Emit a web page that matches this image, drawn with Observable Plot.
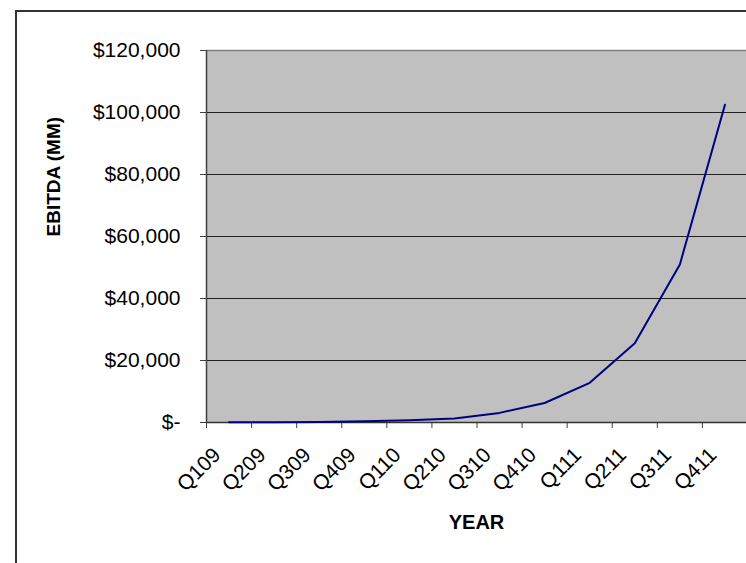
<!DOCTYPE html>
<html>
<head>
<meta charset="utf-8">
<script src="https://cdn.jsdelivr.net/npm/d3@7"></script>
<script src="https://cdn.jsdelivr.net/npm/@observablehq/plot@0.6"></script>
<style>
  html, body { margin: 0; padding: 0; background: #fff; }
  #wrap { position: relative; width: 746px; height: 563px; overflow: hidden; }
  #border { position: absolute; left: 15px; top: 10px; width: 740px; height: 560px;
            border-left: 2px solid #333; border-top: 2px solid #333; }
  #chart { position: absolute; left: 0; top: 0; }
</style>
</head>
<body>
<div id="wrap"><div id="border"></div><div id="chart"></div></div>
<script>
const quarters = ["Q109","Q209","Q309","Q409","Q110","Q210","Q310","Q410","Q111","Q211","Q311","Q411"];
const ebitda = [50, 100, 200, 400, 700, 1300, 3100, 6300, 12800, 25600, 51000, 102500];
const yTicks = [0, 20000, 40000, 60000, 80000, 100000, 120000];
const yTitle = "EBITDA (MM)";
const xTitle = "YEAR";

const data = quarters.map((q, i) => ({q, i: i + 0.5, v: ebitda[i]}));
const boundaries = d3.range(quarters.length);
const centers = data.map(d => d.i);
const fmt = d3.format(",");

const plot = Plot.plot({
  width: 746,
  height: 563,
  marginLeft: 206,
  marginRight: 0,
  marginTop: 50,
  marginBottom: 141,
  style: {fontFamily: "'Liberation Sans', Arial, sans-serif", fontSize: "21px", background: "transparent", color: "#000", overflow: "visible"},
  x: {type: "linear", domain: [0, quarters.length], range: [206, 747]},
  y: {domain: [0, 120000]},
  marks: [
    Plot.frame({fill: "#c0c0c0", stroke: null}),
    Plot.ruleY(yTicks.slice(1, -1), {stroke: "#222", strokeWidth: 1.2}),
    Plot.ruleY([yTicks[yTicks.length - 1]], {stroke: "#808080", strokeWidth: 1.5}),
    Plot.ruleX([0], {stroke: "#404040", strokeWidth: 1.5}),
    Plot.axisY({ticks: yTicks, tickSize: 6, tickPadding: 20, stroke: "#404040",
      tickFormat: d => d === 0 ? "$-" : "$" + fmt(d), label: null}),
    Plot.axisX({ticks: boundaries, tickSize: 6, tickFormat: () => "", stroke: "#404040", label: null}),
    Plot.axisX({ticks: centers, tickSize: 0, tickRotate: -45, tickPadding: 12, dx: -12, dy: 17,
      tickFormat: d => quarters[Math.floor(d)], label: null}),
    Plot.ruleY([0], {stroke: "#333", strokeWidth: 1.5}),
    Plot.line(data, {x: "i", y: "v", stroke: "#000080", strokeWidth: 2}),
    Plot.text([yTitle], {frameAnchor: "left", dx: -153, rotate: -90, fontWeight: "bold", fontSize: 19}),
    Plot.text([xTitle], {frameAnchor: "bottom", dy: 106, fontWeight: "bold", fontSize: 20})
  ]
});
document.getElementById("chart").appendChild(plot);
</script>
</body>
</html>
